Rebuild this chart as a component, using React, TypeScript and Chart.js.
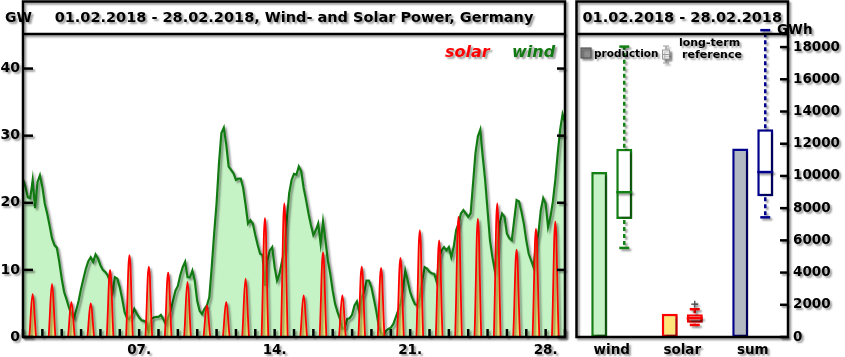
import React, { useEffect, useRef } from "react";
import { Chart, registerables } from "chart.js";

Chart.register(...registerables);

const FONT = "'DejaVu Sans', 'Liberation Sans', sans-serif";

// ---------- left panel data ----------
const leftTitle = "01.02.2018 - 28.02.2018, Wind- and Solar Power, Germany";
const rightTitle = "01.02.2018 - 28.02.2018";
const monthDays = 28;
const windStepHours = 3;
// wind power in GW, every 3 hours from 01.02. 00:00 to 29.02. 00:00
const windGW = [
  23.5, 22.4, 20.8, 20.7, 23.4, 19.2, 23.1, 24.1,
  22.4, 19.9, 18.4, 16.6, 14.7, 13.7, 13.3, 11.2,
  8.7, 6.7, 5.6, 4.4, 3.4, 2.8, 4.0, 5.4,
  7.2, 8.7, 10.2, 11.3, 11.9, 11.2, 12.3, 11.7,
  10.7, 10.0, 9.7, 9.2, 8.2, 6.7, 8.9, 8.7,
  7.4, 5.7, 3.7, 2.8, 2.7, 3.3, 4.2, 3.5,
  2.9, 2.5, 2.4, 2.2, 0.8, 2.7, 2.9, 3.0,
  3.0, 3.3, 2.65, 1.9, 2.9, 3.9, 5.4, 6.9,
  7.6, 9.2, 10.4, 11.2, 8.9, 8.9, 9.9, 8.4,
  5.4, 3.9, 3.4, 4.2, 4.7, 5.9, 10.4, 15.4,
  19.9, 25.9, 30.4, 31.2, 28.7, 25.4, 24.9, 24.4,
  23.4, 23.6, 23.6, 22.2, 19.7, 16.9, 17.4, 16.9,
  15.2, 13.7, 12.4, 12.2, 7.6, 11.4, 12.9, 13.4,
  10.4, 8.4, 9.4, 11.2, 12.9, 17.4, 21.4, 23.4,
  24.3, 24.2, 25.4, 24.7, 22.2, 20.4, 18.4, 16.7,
  15.2, 15.9, 16.9, 13.9, 17.2, 14.4, 11.4, 9.4,
  6.9, 4.9, 3.7, 2.7, 1.2, 1.4, 2.7, 2.8,
  3.3, 4.7, 5.3, 3.7, 5.9, 6.7, 8.4, 8.4,
  7.4, 5.7, 3.9, 1.7, 0.65, 0.15, 0.9, 1.2,
  1.4, 1.9, 2.9, 3.9, 4.9, 6.9, 9.9, 8.4,
  6.7, 5.7, 4.9, 4.7, 5.9, 8.4, 10.4, 10.2,
  9.7, 9.5, 9.4, 8.2, 11.9, 12.9, 13.4, 12.9,
  13.4, 11.9, 13.4, 15.9, 16.9, 18.4, 18.9, 18.4,
  17.9, 18.4, 22.9, 27.4, 29.9, 30.9, 26.9, 23.4,
  18.9, 14.4, 11.9, 9.9, 12.9, 16.9, 18.4, 17.9,
  15.4, 14.7, 14.4, 17.4, 20.4, 20.2, 18.7, 16.9,
  14.4, 12.4, 11.4, 10.4, 13.9, 15.4, 18.9, 20.7,
  19.9, 16.4, 17.9, 20.2, 23.4, 27.4, 30.9, 33.2,
  32.0,
];
// daily solar peak in GW (at noon), days 1..28
const solarPeakGW = [
  6.4, 7.9, 5.2, 5.0, 10.0, 12.2, 10.5,
  9.6, 8.2, 4.7, 5.2, 8.7, 17.7, 19.9,
  6.2, 12.6, 6.2, 10.5, 10.3, 11.8, 15.9,
  14.4, 17.9, 17.6, 19.9, 13.0, 16.1, 17.2,
];
// solar day: zero before sunrise / after sunset (fractions of the day)
const solarNightEnd = 0.3;
const solarRiseDay = 0.325;
const solarNoonDay = 0.5;
const solarSetDay = 0.675;
const solarNightStart = 0.7;
const dayTickValues = [6, 13, 20, 27];
const dayTickLabels = ["07.", "14.", "21.", "28."];
const gwTickValues = [0, 10, 20, 30, 40];
const gwMax = 45;

// ---------- right panel data ----------
const categories = ["wind", "solar", "sum"];
const productionGWh = [10250, 1450, 11700];
const refLowGWh = [5530, 750, 7430];
const refQ1GWh = [7330, 890, 8740];
const refMedianGWh = [8990, 1165, 10240];
const refQ3GWh = [11690, 1410, 12900];
const refHighGWh = [18030, 1725, 19050];
const refOutlierGWh = [[], [2040], []];
const gwhTickValues = [0, 2000, 4000, 6000, 8000, 10000, 12000, 14000, 16000, 18000];
const gwhMax = 18750;

// ---------- colours ----------
const WIND_LINE = "#127a12";
const WIND_FILL = "#c6f3c6";
const SOLAR_LINE = "#ff0000";
const SOLAR_FILL = "rgba(255,220,70,0.6)";
const catFill = ["#c6f3c6", "#ffe57a", "#b3b9c2"];
const catEdge = ["#128012", "#ff0000", "#00008c"];

function setShadow(ctx: CanvasRenderingContext2D, on: boolean) {
  if (on) {
    ctx.shadowColor = "rgba(0,0,0,0.4)";
    ctx.shadowOffsetX = 2;
    ctx.shadowOffsetY = 2;
    ctx.shadowBlur = 2;
  } else {
    ctx.shadowColor = "rgba(0,0,0,0)";
    ctx.shadowOffsetX = 0;
    ctx.shadowOffsetY = 0;
    ctx.shadowBlur = 0;
  }
}

function seg(ctx: CanvasRenderingContext2D, x1: number, y1: number, x2: number, y2: number) {
  ctx.beginPath();
  ctx.moveTo(x1, y1);
  ctx.lineTo(x2, y2);
  ctx.stroke();
}

const leftDecor = {
  id: "leftDecor",
  beforeDraw(chart: any) {
    setShadow(chart.ctx, true);
  },
  beforeDatasetsDraw(chart: any) {
    setShadow(chart.ctx, false);
  },
  beforeDatasetDraw(chart: any) {
    setShadow(chart.ctx, true);
  },
  afterDatasetDraw(chart: any) {
    setShadow(chart.ctx, false);
  },
  afterDraw(chart: any) {
    const ctx: CanvasRenderingContext2D = chart.ctx;
    const { left, right, top, bottom } = chart.chartArea;
    const xs = chart.scales.x;
    const ys = chart.scales.y;
    const frameTop = 1.5;
    ctx.save();
    setShadow(ctx, true);
    ctx.strokeStyle = "#000";
    ctx.lineWidth = 2.5;
    // daily tick marks (inside)
    for (let d = 0; d <= monthDays; d += 1) {
      const px = xs.getPixelForValue(d);
      seg(ctx, px, bottom, px, bottom - 8);
    }
    gwTickValues.forEach((v) => {
      const py = ys.getPixelForValue(v);
      seg(ctx, left, py, left + 10, py);
      seg(ctx, right, py, right - 8, py);
    });
    // frame
    ctx.beginPath();
    ctx.rect(left, frameTop, right - left, bottom - frameTop);
    ctx.stroke();
    seg(ctx, left, top - 1, right, top - 1);
    // texts
    ctx.fillStyle = "#000";
    ctx.textBaseline = "middle";
    ctx.textAlign = "center";
    ctx.font = `bold 14.5px ${FONT}`;
    ctx.fillText(leftTitle, (left + right) / 2, 18);
    ctx.textAlign = "left";
    ctx.font = `bold 14px ${FONT}`;
    ctx.fillText("GW", 5, 18);
    ctx.font = `italic bold 16px ${FONT}`;
    ctx.fillStyle = SOLAR_LINE;
    ctx.fillText("solar", 445, 53);
    ctx.fillStyle = WIND_LINE;
    ctx.fillText("wind", 512, 53);
    ctx.restore();
  },
};

const rightDecor = {
  id: "rightDecor",
  beforeDraw(chart: any) {
    setShadow(chart.ctx, true);
  },
  afterDatasetsDraw(chart: any) {
    const ctx: CanvasRenderingContext2D = chart.ctx;
    const ys = chart.scales.y;
    const meta = chart.getDatasetMeta(1);
    ctx.save();
    setShadow(ctx, true);
    ctx.lineWidth = 2.5;
    categories.forEach((_, i) => {
      const el: any = meta.data[i];
      const x = el.x;
      const w = el.width;
      const c = catEdge[i];
      ctx.strokeStyle = c;
      const pq1 = ys.getPixelForValue(refQ1GWh[i]);
      const pq3 = ys.getPixelForValue(refQ3GWh[i]);
      const plo = ys.getPixelForValue(refLowGWh[i]);
      const phi = ys.getPixelForValue(refHighGWh[i]);
      const pmed = ys.getPixelForValue(refMedianGWh[i]);
      ctx.setLineDash([4, 3]);
      seg(ctx, x, pq3 - 1, x, phi);
      seg(ctx, x, pq1 + 1, x, plo);
      ctx.setLineDash([]);
      seg(ctx, x - 5, phi, x + 5, phi);
      seg(ctx, x - 5, plo, x + 5, plo);
      seg(ctx, x - w / 2, pmed, x + w / 2, pmed);
      ctx.strokeStyle = "#444";
      ctx.lineWidth = 1.3;
      refOutlierGWh[i].forEach((v) => {
        const py = ys.getPixelForValue(v);
        seg(ctx, x - 3.5, py, x + 3.5, py);
        seg(ctx, x, py - 3.5, x, py + 3.5);
      });
      ctx.lineWidth = 2.5;
    });
    ctx.restore();
  },
  afterDraw(chart: any) {
    const ctx: CanvasRenderingContext2D = chart.ctx;
    const { left, right, top, bottom } = chart.chartArea;
    const ys = chart.scales.y;
    const frameTop = 1.5;
    ctx.save();
    setShadow(ctx, true);
    ctx.strokeStyle = "#000";
    ctx.lineWidth = 2.5;
    gwhTickValues.forEach((v) => {
      const py = ys.getPixelForValue(v);
      seg(ctx, right, py, right - 8, py);
    });
    ctx.beginPath();
    ctx.rect(left, frameTop, right - left, bottom - frameTop);
    ctx.stroke();
    seg(ctx, left, top - 1, right, top - 1);
    ctx.fillStyle = "#000";
    ctx.textBaseline = "middle";
    ctx.textAlign = "center";
    ctx.font = `bold 14.5px ${FONT}`;
    ctx.fillText(rightTitle, (left + right) / 2, 18);
    ctx.textAlign = "left";
    ctx.font = `bold 13.5px ${FONT}`;
    ctx.fillText("GWh", right - 11, 30.5);
    // legend
    ctx.lineWidth = 1.2;
    ctx.fillStyle = "#8c8c8c";
    ctx.strokeStyle = "#555";
    ctx.fillRect(left + 4.5, 48, 10, 10);
    ctx.strokeRect(left + 4.5, 48, 10, 10);
    ctx.fillStyle = "#000";
    ctx.font = `bold 10.5px ${FONT}`;
    ctx.fillText("production", left + 17.5, 54);
    // box-plot icon
    const ix = left + 89.5;
    ctx.strokeStyle = "#999";
    ctx.lineWidth = 1;
    seg(ctx, ix, 46, ix, 63);
    seg(ctx, ix - 3, 46, ix + 3, 46);
    seg(ctx, ix - 3, 63, ix + 3, 63);
    ctx.fillStyle = "#fff";
    ctx.fillRect(ix - 3.5, 50, 7, 9);
    ctx.strokeRect(ix - 3.5, 50, 7, 9);
    seg(ctx, ix - 3.5, 54.5, ix + 3.5, 54.5);
    ctx.fillStyle = "#000";
    ctx.textAlign = "center";
    ctx.font = `bold 11px ${FONT}`;
    ctx.fillText("long-term", left + 133, 43);
    ctx.fillText("reference", left + 135.5, 55);
    ctx.restore();
  },
};

function buildLeftConfig(): any {
  const windPoints = windGW.map((v, i) => ({ x: (i * windStepHours) / 24, y: v }));
  const solarPoints: { x: number; y: number }[] = [{ x: 0, y: 0 }];
  solarPeakGW.forEach((p, d) => {
    solarPoints.push({ x: d + solarNightEnd, y: 0 });
    solarPoints.push({ x: d + solarRiseDay, y: 0 });
    solarPoints.push({ x: d + solarNoonDay, y: p });
    solarPoints.push({ x: d + solarSetDay, y: 0 });
    solarPoints.push({ x: d + solarNightStart, y: 0 });
  });
  solarPoints.push({ x: monthDays, y: 0 });
  return {
    type: "line",
    data: {
      datasets: [
        {
          label: "solar",
          data: solarPoints,
          borderColor: SOLAR_LINE,
          borderWidth: 1.8,
          backgroundColor: SOLAR_FILL,
          fill: "origin",
          pointRadius: 0,
          tension: 0.4,
        },
        {
          label: "wind",
          data: windPoints,
          borderColor: WIND_LINE,
          borderWidth: 2.2,
          backgroundColor: WIND_FILL,
          fill: "origin",
          pointRadius: 0,
          tension: 0,
        },
      ],
    },
    options: {
      responsive: false,
      animation: false,
      devicePixelRatio: 1,
      layout: { padding: { top: 35, right: 5, left: 0, bottom: 0 } },
      plugins: { legend: { display: false }, tooltip: { enabled: false } },
      scales: {
        x: {
          type: "linear",
          min: 0,
          max: monthDays,
          grid: { display: false, drawTicks: false },
          border: { display: false },
          afterBuildTicks: (s: any) => {
            s.ticks = dayTickValues.map((v) => ({ value: v }));
          },
          afterFit: (s: any) => {
            s.height = 20;
          },
          ticks: {
            autoSkip: false,
            maxRotation: 0,
            padding: 5,
            color: "#000",
            font: { family: FONT, size: 13.5, weight: "bold" },
            callback: (_v: any, i: number) => dayTickLabels[i],
          },
        },
        y: {
          type: "linear",
          min: 0,
          max: gwMax,
          grid: { display: false, drawTicks: false },
          border: { display: false },
          afterBuildTicks: (s: any) => {
            s.ticks = gwTickValues.map((v) => ({ value: v }));
          },
          afterFit: (s: any) => {
            s.width = 23;
          },
          ticks: {
            padding: 3,
            color: "#000",
            font: { family: FONT, size: 14, weight: "bold" },
            callback: (v: any) => String(v),
          },
        },
      },
    },
    plugins: [leftDecor],
  };
}

function buildRightConfig(): any {
  return {
    type: "bar",
    data: {
      labels: categories,
      datasets: [
        {
          label: "production",
          data: productionGWh,
          backgroundColor: catFill,
          borderColor: catEdge,
          borderWidth: 2.5,
          borderSkipped: false,
          categoryPercentage: 0.71,
          barPercentage: 0.64,
        },
        {
          label: "long-term reference",
          data: refQ1GWh.map((q, i) => [q, refQ3GWh[i]]),
          backgroundColor: "#ffffff",
          borderColor: catEdge,
          borderWidth: 2.5,
          borderSkipped: false,
          categoryPercentage: 0.71,
          barPercentage: 0.64,
        },
      ],
    },
    options: {
      responsive: false,
      animation: false,
      devicePixelRatio: 1,
      layout: { padding: { top: 35, right: 0, left: 6.5, bottom: 0 } },
      plugins: { legend: { display: false }, tooltip: { enabled: false } },
      scales: {
        x: {
          type: "category",
          grid: { display: false, drawTicks: false },
          border: { display: false },
          afterFit: (s: any) => {
            s.height = 20;
          },
          ticks: {
            padding: 5,
            color: "#000",
            font: { family: FONT, size: 13.5, weight: "bold" },
          },
        },
        y: {
          type: "linear",
          position: "right",
          min: 0,
          max: gwhMax,
          grid: { display: false, drawTicks: false },
          border: { display: false },
          afterBuildTicks: (s: any) => {
            s.ticks = gwhTickValues.map((v) => ({ value: v }));
          },
          afterFit: (s: any) => {
            s.width = 57;
          },
          ticks: {
            padding: 5,
            color: "#000",
            font: { family: FONT, size: 13.5, weight: "bold" },
            callback: (v: any) => String(v),
          },
        },
      },
    },
    plugins: [rightDecor],
  };
}

export default function App() {
  const leftRef = useRef<HTMLCanvasElement>(null);
  const rightRef = useRef<HTMLCanvasElement>(null);
  useEffect(() => {
    const c1 = new Chart(leftRef.current as HTMLCanvasElement, buildLeftConfig());
    const c2 = new Chart(rightRef.current as HTMLCanvasElement, buildRightConfig());
    return () => {
      c1.destroy();
      c2.destroy();
    };
  }, []);
  return (
    <div style={{ position: "fixed", left: 0, top: 0, width: 845, height: 357, background: "#fff" }}>
      <canvas
        ref={leftRef}
        width={570}
        height={357}
        style={{ position: "absolute", left: 0, top: 0, width: 570, height: 357 }}
      />
      <canvas
        ref={rightRef}
        width={275}
        height={357}
        style={{ position: "absolute", left: 570, top: 0, width: 275, height: 357 }}
      />
    </div>
  );
}
